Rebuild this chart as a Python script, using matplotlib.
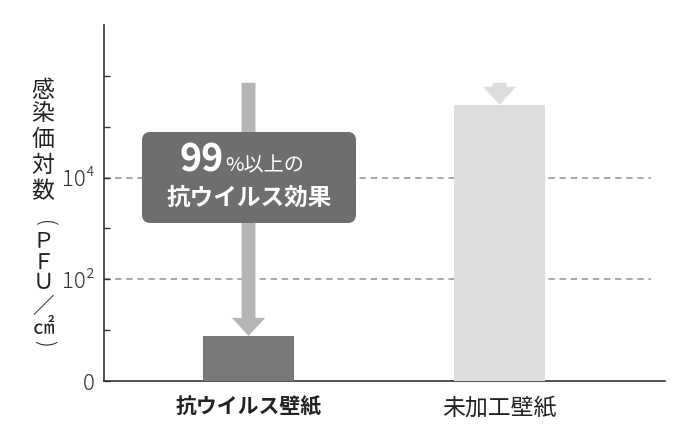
import numpy as np
import matplotlib.pyplot as plt
from matplotlib.patches import FancyBboxPatch

plt.rcParams['font.family'] = ['Noto Sans CJK JP', 'DejaVu Sans']
plt.rcParams['lines.scale_dashes'] = False

# data (PFU/cm2)
categories = ['抗ウイルス壁紙', '未加工壁紙']
values = [7.7, 2.7e5]
arrow_from = 7.3e5
tick_values = [1, 10, 100, 1e3, 1e4, 1e5, 1e6]
tick_labels = ['0', '', '10²', '', '10⁴', '', '']
grid_values = [100, 1e4]
bar_colors = ['#77787a', '#dcdddd']
arrow_colors = ['#b4b5b6', '#dcdddd']
label_weights = ['bold', 'normal']
label_sizes = [15, 16.5]
ylabel_chars = ['感', '染', '価', '対', '数', '(', 'Ｐ', 'Ｆ', 'Ｕ', '／', '㎠', ')']
# vertical centre of each y-label glyph, in pixels from the top
ylabel_y = [90, 114, 139, 165, 192, 223, 241, 263, 283, 307, 328, 343]

W, H = 700, 440
AX_L, AX_B, AX_W, AX_H = 104, 381, 561, 356

fig = plt.figure(figsize=(W / 100, H / 100), dpi=100)
ax = fig.add_axes([AX_L / W, 1 - AX_B / H, AX_W / W, AX_H / H])


def to_ax(px, py):
    # pixel position in the picture -> axes fraction
    return (px - AX_L) / AX_W, (AX_B - py) / AX_H


ax.set_yscale('log')
ax.set_ylim(1, 1e7)
ax.set_xlim(-0.5757, 1.659)
x = np.arange(len(categories))

for g in grid_values:
    ax.axhline(g, xmin=0, xmax=0.975, color='#9a9a9a', lw=1.2,
               dashes=(4.6, 3.4), zorder=1)

ax.bar(x, values, width=0.3625, color=bar_colors, zorder=3)

for i in range(len(categories)):
    ax.annotate('', xy=(x[i], values[i]), xytext=(x[i], arrow_from),
                arrowprops=dict(width=10, headwidth=24, headlength=13,
                                shrink=0, color=arrow_colors[i], lw=0),
                zorder=2)

# callout box
bx, by = to_ax(142, 223)
bw, bh = 214 / AX_W, 91 / AX_H
box = FancyBboxPatch((bx, by), bw, bh, boxstyle='round,pad=0,rounding_size=0.015',
                     mutation_aspect=1.55, transform=ax.transAxes,
                     facecolor='#6d6e70', edgecolor='none', zorder=4)
ax.add_patch(box)
tx, ty = to_ax(224, 171)
ax.text(tx, ty, '99', transform=ax.transAxes, ha='right', va='baseline',
        fontsize=27, fontweight='bold', color='white', zorder=5)
tx, ty = to_ax(225, 171)
ax.text(tx, ty, '%以上の', transform=ax.transAxes, ha='left', va='baseline',
        fontsize=14.5, color='white', zorder=5)
tx, ty = to_ax(249, 198)
ax.text(tx, ty, '抗ウイルス効果', transform=ax.transAxes, ha='center', va='center',
        fontsize=17, fontweight='bold', color='white', zorder=5)

# axes styling
for s in ['top', 'right']:
    ax.spines[s].set_visible(False)
for s in ['left', 'bottom']:
    ax.spines[s].set_color('#333333')
    ax.spines[s].set_linewidth(1.2)
ax.set_yticks(tick_values)
ax.set_yticklabels(tick_labels)
ax.yaxis.set_minor_locator(plt.NullLocator())
ax.tick_params(axis='y', direction='in', length=4.5, width=1, color='#333333',
               pad=6.5, labelsize=16, labelcolor='#333333')
for t in ax.get_yticklabels():
    t.set_fontweight('light')
ax.set_xticks(x)
ax.set_xticklabels(categories)
ax.tick_params(axis='x', length=0, pad=11, labelcolor='#222222')
for t, w, sz in zip(ax.get_xticklabels(), label_weights, label_sizes):
    t.set_fontweight(w)
    t.set_fontsize(sz)

# vertical y label, one glyph at a time; brackets turned for vertical writing
for ch, cy in zip(ylabel_chars, ylabel_y):
    if ch in '()':
        fig.text(43 / W, 1 - cy / H, ch, ha='center', va='center', rotation=-90,
                 fontsize=15, fontweight='light', color='#222222')
    else:
        fig.text(43 / W, 1 - cy / H, ch, ha='center', va='center',
                 fontsize=15.5 if ch in 'ＰＦＵ／㎠' else 16.5, color='#222222')

fig.savefig('out.png', dpi=100)
